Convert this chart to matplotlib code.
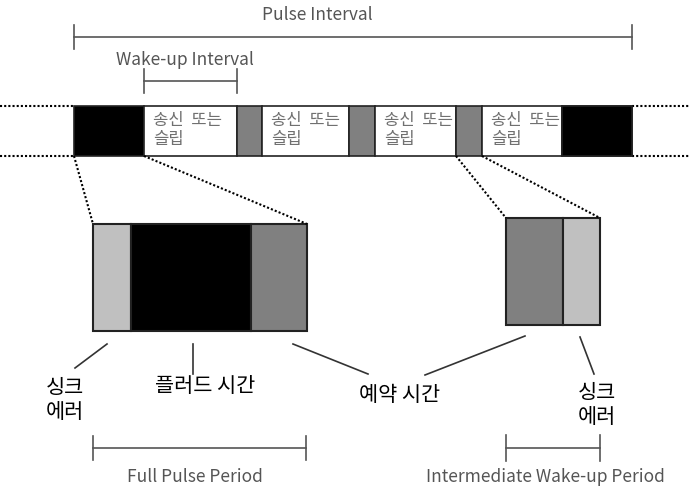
import matplotlib
matplotlib.use("Agg")
import matplotlib.pyplot as plt
from matplotlib.patches import Rectangle

plt.rcParams['font.family'] = ['Noto Sans CJK KR', 'DejaVu Sans']

# top bar: segment edges (pixel x) and fills
bar_edges = [74, 144, 237, 262, 349, 375, 456, 482, 562, 632]
bar_fills = ['black', 'white', 'gray', 'white', 'gray', 'white', 'gray', 'white', 'black']
bar_top, bar_bot = 107, 157
slot_text = '송신  또는\n슬립'

# zoomed boxes
big_edges = [93, 131, 251, 307]
big_fills = ['#c0c0c0', 'black', '#808080']
big_top, big_bot = 225, 332
small_edges = [506, 563, 600]
small_fills = ['#808080', '#c0c0c0']
small_top, small_bot = 219, 326

# brackets: (x0, x1, y, label, label_x, label_y)
brackets = [
    (74, 632, 38, 'Pulse Interval', 317, 15),
    (144, 237, 82, 'Wake-up Interval', 185, 60),
    (93, 306, 449, 'Full Pulse Period', 195, 477),
    (506, 600, 449, 'Intermediate Wake-up Period', 545, 477),
]
tick_half = [12, 12, 12, 13]

# callout lines and labels
callouts = [((107, 345), (75, 369)), ((193, 345), (193, 375)),
            ((293, 345), (368, 375)), ((525, 337), (425, 376)),
            ((580, 338), (594, 375))]
callout_labels = [('싱크\n에러', 65, 400), ('플러드 시간', 205, 386),
                  ('예약 시간', 400, 395), ('싱크\n에러', 597, 405)]

fig = plt.figure(figsize=(6.89, 4.89), dpi=100)
ax = fig.add_axes([0, 0, 1, 1])
ax.set_xlim(0, 689)
ax.set_ylim(489, 0)
ax.axis('off')

# dotted extension of the bar
for y in (bar_top, bar_bot):
    ax.plot([0, bar_edges[0]], [y, y], color='black', lw=1.5, ls=(0, (1, 1)))
    ax.plot([bar_edges[-1], 689], [y, y], color='black', lw=1.5, ls=(0, (1, 1)))

for i, f in enumerate(bar_fills):
    x0, x1 = bar_edges[i], bar_edges[i + 1]
    ax.add_patch(Rectangle((x0, bar_top), x1 - x0, bar_bot - bar_top,
                           facecolor=f, edgecolor='#222222', lw=1.2))
    if f == 'white':
        ax.text(x0 + 9, 130, slot_text, fontsize=12, color='#707070',
                va='center', ha='left', linespacing=1.15)

# redraw black end block so slot text is covered
ax.add_patch(Rectangle((bar_edges[-2], bar_top), bar_edges[-1] - bar_edges[-2],
                       bar_bot - bar_top, facecolor='black', edgecolor='#222222',
                       lw=1.2, zorder=3))

for edges, fills, top, bot in ((big_edges, big_fills, big_top, big_bot),
                               (small_edges, small_fills, small_top, small_bot)):
    for i, f in enumerate(fills):
        ax.add_patch(Rectangle((edges[i], top), edges[i + 1] - edges[i], bot - top,
                               facecolor=f, edgecolor='#222222', lw=1.5))

# dotted zoom lines
zoom_lines = [((74, bar_bot), (93, big_top)), ((144, bar_bot), (307, big_top)),
              ((456, bar_bot), (506, small_top)), ((482, bar_bot), (600, small_top))]
for (xa, ya), (xb, yb) in zoom_lines:
    ax.plot([xa, xb], [ya, yb], color='black', lw=1.5, ls=(0, (1, 1)))

for (x0, x1, y, lab, lx, ly), h in zip(brackets, tick_half):
    ax.plot([x0, x1], [y, y], color='#555555', lw=1.2)
    ax.plot([x0, x0], [y - h, y + h], color='#555555', lw=1.2)
    ax.plot([x1, x1], [y - h, y + h], color='#555555', lw=1.2)
    ax.text(lx, ly, lab, fontsize=12.5, color='#555555', ha='center', va='center')

for (xa, ya), (xb, yb) in callouts:
    ax.plot([xa, xb], [ya, yb], color='#333333', lw=1.2)
for lab, x, y in callout_labels:
    ax.text(x, y, lab, fontsize=15, color='black', ha='center', va='center',
            linespacing=1.1)

fig.savefig('out.png', dpi=100)
